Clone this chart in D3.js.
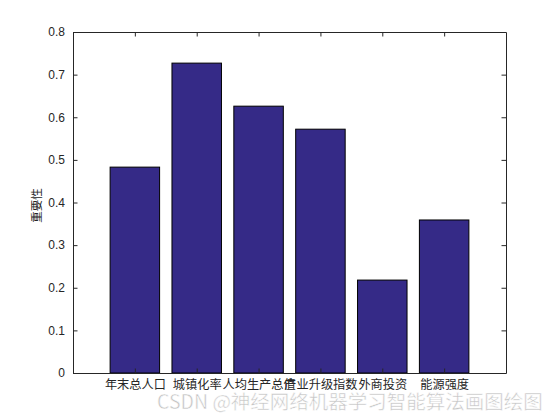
<!DOCTYPE html>
<html><head><meta charset="utf-8">
<script src="https://cdn.jsdelivr.net/npm/d3@7"></script>
<style>body{margin:0;background:#fff}svg{display:block}</style>
</head><body>
<svg id="c" width="560" height="420"></svg>
<script>
const categories = ["年末总人口","城镇化率","人均生产总值","产业升级指数","外商投资","能源强度"];
const values = [0.483, 0.727, 0.626, 0.572, 0.218, 0.359];
const yTicks = [0,0.1,0.2,0.3,0.4,0.5,0.6,0.7,0.8];
const yLabel = "重要性";
const watermark = "CSDN @神经网络机器学习智能算法画图绘图";

const svg = d3.select("#c");
const L=73, R=506, T=32, B=373;
const x = d3.scaleLinear().domain([0,7]).range([L,R]);
const y = d3.scaleLinear().domain([0,0.8]).range([B,T]);
const bw = (x(1)-x(0))*0.8;
const font = "'Liberation Sans', Arial, sans-serif";
const cjk = "'Noto Sans CJK SC', sans-serif";

svg.append("rect").attr("width",560).attr("height",420).attr("fill","#fff");

svg.selectAll("rect.bar").data(values).join("rect").attr("class","bar")
  .attr("x",(d,i)=>x(i+1)-bw/2).attr("y",d=>y(d))
  .attr("width",bw).attr("height",d=>y(0)-y(d))
  .attr("fill","#352A87").attr("stroke","#000").attr("stroke-width",1);

const tickLen = 4.5;
const axL = d3.axisLeft(y).tickValues(yTicks).tickFormat(d=>d===0?"0":d3.format(".1f")(d)).tickSizeInner(-tickLen).tickSizeOuter(0).tickPadding(8);
const gL = svg.append("g").attr("transform",`translate(${L},0)`).call(axL);
const axR = d3.axisRight(y).tickValues(yTicks).tickFormat("").tickSizeInner(-tickLen).tickSizeOuter(0);
const gR = svg.append("g").attr("transform",`translate(${R},0)`).call(axR);
const xt = d3.range(1,7);
const axB = d3.axisBottom(x).tickValues(xt).tickFormat((d,i)=>categories[i]).tickSizeInner(-tickLen).tickSizeOuter(0).tickPadding(7);
const gB = svg.append("g").attr("transform",`translate(0,${B})`).call(axB);
const axT = d3.axisTop(x).tickValues(xt).tickFormat("").tickSizeInner(-tickLen).tickSizeOuter(0);
const gT = svg.append("g").attr("transform",`translate(0,${T})`).call(axT);

[gL,gR,gB,gT].forEach(g=>{
  g.selectAll("path").attr("stroke","#262626").attr("stroke-width",1);
  g.selectAll("line").attr("stroke","#262626");
});
gL.selectAll("text").attr("font-family",font).attr("font-size",12).attr("fill","#262626");
gB.selectAll("text").attr("font-family",cjk).attr("font-size",12.2).attr("fill","#262626");

svg.append("text").attr("transform",`translate(41,${(T+B)/2+3}) rotate(-90)`)
  .attr("text-anchor","middle").attr("font-family",cjk).attr("font-size",11.5).attr("fill","#262626").text(yLabel);

svg.append("text").attr("x",157).attr("y",409).attr("font-family",cjk).attr("font-size",19.5)
  .attr("fill","#c4c4c4").attr("stroke","#fff").attr("stroke-width",0.5).text(watermark);
</script>
</body></html>
